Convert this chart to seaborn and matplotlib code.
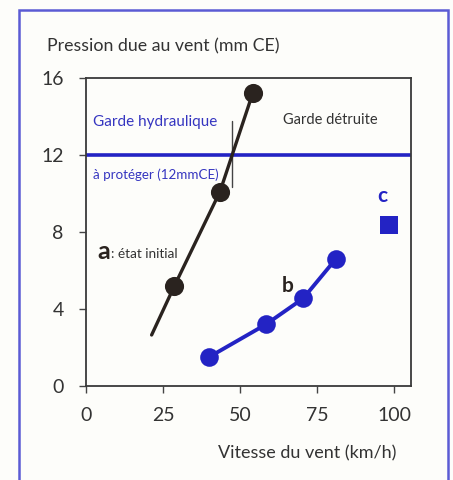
import matplotlib
matplotlib.use("Agg")
import matplotlib.pyplot as plt
import seaborn as sns
import pandas as pd
from matplotlib.patches import Rectangle

# ---- data ----
a_speed = [21.3, 28.7, 43.5, 54.1]
a_pressure = [2.65, 5.2, 10.1, 15.2]
a_marked = [False, True, True, True]
b_speed = [39.9, 58.4, 70.5, 81.1]
b_pressure = [1.5, 3.2, 4.55, 6.6]
c_speed = [98.4]
c_pressure = [8.35]
threshold = 12
x_ticks = [0, 25, 50, 75, 100]
y_ticks = [0, 4, 8, 12, 16]

sns.set_theme(style="white")
plt.rcParams['font.family'] = ['Lato', 'DejaVu Sans']

BG = '#fdfdfa'
DARK = '#2a231f'
BLUE = '#2323c4'
TXT = '#333333'

df_a = pd.DataFrame({'v': a_speed, 'p': a_pressure, 'm': a_marked})
df_b = pd.DataFrame({'v': b_speed, 'p': b_pressure})
df_c = pd.DataFrame({'v': c_speed, 'p': c_pressure})

fig = plt.figure(figsize=(4.53, 4.80), dpi=100, facecolor=BG)
ax = fig.add_axes([86/453, 1-386/480, (411-86)/453, (386-78)/480])
ax.set_facecolor(BG)

# frame
fig.patches.append(Rectangle((19/453, -0.02), (448-19)/453, 1-10/480+0.02,
                             transform=fig.transFigure, fill=False,
                             edgecolor='#5b5bd4', linewidth=1.8, clip_on=False))

ax.axhline(threshold, color=BLUE, lw=2.6, zorder=2)

sns.lineplot(data=df_a, x='v', y='p', ax=ax, color=DARK, lw=2.4, zorder=3, sort=False)
sns.scatterplot(data=df_a[df_a['m']], x='v', y='p', ax=ax, color=DARK, s=190,
                edgecolor=DARK, linewidth=0, zorder=4)
sns.lineplot(data=df_b, x='v', y='p', ax=ax, color=BLUE, lw=2.8, zorder=3, sort=False)
sns.scatterplot(data=df_b, x='v', y='p', ax=ax, color=BLUE, s=180,
                edgecolor=BLUE, linewidth=0, zorder=4)
sns.scatterplot(data=df_c, x='v', y='p', ax=ax, color=BLUE, marker='s', s=170,
                edgecolor=BLUE, linewidth=0, zorder=4)

# crossing mark
ax.plot([47.3, 47.3], [10.35, 13.75], color='#444444', lw=1.0, zorder=2)

ax.set_xlim(0, 105.5)
ax.set_ylim(0, 16)
ax.set_xticks(x_ticks)
ax.set_yticks(y_ticks)
ax.set_xticklabels([str(t) for t in x_ticks])
ax.set_yticklabels([str(t) for t in y_ticks])
ax.tick_params(axis='both', direction='out', length=5, width=1.0, color='#444444',
               labelsize=14, labelcolor=TXT, bottom=True, left=True)
ax.tick_params(axis='y', pad=11)
ax.tick_params(axis='x', pad=10)
for s in ax.spines.values():
    s.set_color('#3a3a3a')
    s.set_linewidth(1.3)
ax.set_xlabel('')
ax.set_ylabel('')

# texts
fig.text(47/453, 1-46/480, 'Pression due au vent (mm CE)', fontsize=12.8, color=TXT,
         ha='left', va='center')
fig.text(396/453, 1-453/480, 'Vitesse du vent (km/h)', fontsize=13, color=TXT,
         ha='right', va='center')

ax.text(2.3, 13.7, 'Garde hydraulique', fontsize=11, color='#3535c0', ha='left', va='center')
ax.text(64.0, 13.8, 'Garde détruite', fontsize=10.5, color=TXT, ha='left', va='center')
ax.text(2.2, 10.95, 'à protéger (12mmCE)', fontsize=9.6, color='#3535c0', ha='left', va='center')
ax.text(3.7, 7.0, 'a', fontsize=18, fontweight='bold', color=DARK, ha='left', va='center')
ax.text(8.0, 6.85, ': état initial', fontsize=9.8, color=TXT, ha='left', va='center')
ax.text(65.5, 5.2, 'b', fontsize=15, fontweight='bold', color=DARK, ha='center', va='center')
ax.text(96.3, 9.85, 'c', fontsize=15, fontweight='bold', color=BLUE, ha='center', va='center')

fig.savefig('out.png', dpi=100, facecolor=BG)
